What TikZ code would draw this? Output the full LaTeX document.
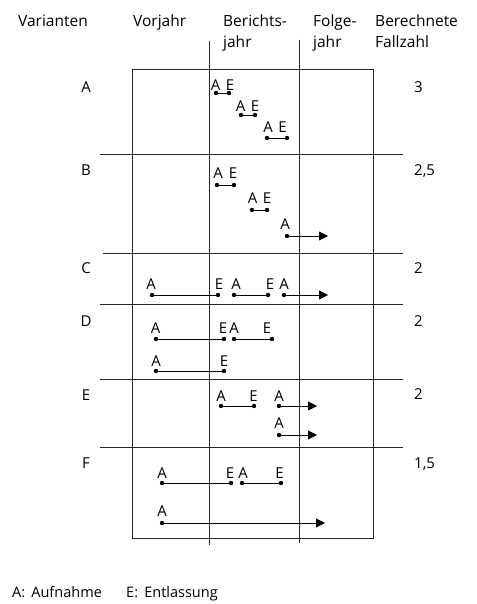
\documentclass[tikz,border=0pt]{standalone}
\usepackage{fontspec}
\setmainfont{Open Sans}
\usetikzlibrary{arrows.meta}
\tikzset{
  txt/.style={font=\fontsize{15}{18}\selectfont, inner sep=0pt, anchor=base},
  hdr/.style={font=\fontsize{15.5}{18}\selectfont, inner sep=0pt, anchor=base west},
  dot/.style={circle, fill=black, inner sep=0pt, minimum size=4.4pt},
  seg/.style={line width=0.9pt},
  arr/.style={seg, -{Triangle[length=9pt,width=9pt]}},
  gridline/.style={line width=1pt, black!85},
}
\begin{document}
\begin{tikzpicture}[x=1pt,y=-1pt]
\useasboundingbox (0,0) rectangle (476,604);
% header
\node[hdr] (hVar) at (18,27) {Varianten};
\node[hdr] (hVor) at (133,27) {Vorjahr};
\node[hdr] (hBer1) at (223,27) {Berichts-};
\node[hdr] (hBer2) at (223,48) {jahr};
\node[hdr] (hFol1) at (313,27) {Folge-};
\node[hdr] (hFol2) at (313,48) {jahr};
\node[hdr] (hFal1) at (375,27) {Berechnete};
\node[hdr] (hFal2) at (375,48) {Fallzahl};
% grid
\draw[gridline] (132,70) rectangle (373,538);
\draw[gridline] (209,41) -- (209,545);
\draw[gridline] (299,40) -- (299,543);
\draw[gridline] (100,155) -- (403,155);
\draw[gridline] (103,253) -- (403,253);
\draw[gridline] (100,304) -- (403,304);
\draw[gridline] (100,379) -- (403,379);
\draw[gridline] (100,447) -- (403,447);
% row labels
\node[txt] (vA) at (86,92.5) {A};
\node[txt] (vB) at (86,175.5) {B};
\node[txt] (vC) at (86,273.5) {C};
\node[txt] (vD) at (86,326.5) {D};
\node[txt] (vE) at (86,400.5) {E};
\node[txt] (vF) at (86,468.5) {F};
% numbers
\node[txt,anchor=base west] (nA) at (414,92.5) {3};
\node[txt,anchor=base west] (nB) at (414,175.5) {2,5};
\node[txt,anchor=base west] (nC) at (414,273.5) {2};
\node[txt,anchor=base west] (nD) at (414,326.5) {2};
\node[txt,anchor=base west] (nE) at (414,399.5) {2};
\node[txt,anchor=base west] (nF) at (414,468.5) {1,5};
% ---- Row A
\node[dot] (a1s) at (216,93) {}; \node[dot] (a1e) at (229,93) {};
\node[txt] (a1sl) at (215.5,91) {A}; \node[txt] (a1el) at (230,91) {E};
\draw[seg] (a1s) -- (a1e);
\node[dot] (a2s) at (241,115) {}; \node[dot] (a2e) at (255,115) {};
\node[txt] (a2sl) at (240.5,111.5) {A}; \node[txt] (a2el) at (255,111.5) {E};
\draw[seg] (a2s) -- (a2e);
\node[dot] (a3s) at (267,138) {}; \node[dot] (a3e) at (287,138) {};
\node[txt] (a3sl) at (268,133) {A}; \node[txt] (a3el) at (282.5,133) {E};
\draw[seg] (a3s) -- (a3e);
% ---- Row B
\node[dot] (b1s) at (217,185) {}; \node[dot] (b1e) at (234,185) {};
\node[txt] (b1sl) at (218,178) {A}; \node[txt] (b1el) at (233,178) {E};
\draw[seg] (b1s) -- (b1e);
\node[dot] (b2s) at (252,210) {}; \node[dot] (b2e) at (267,210) {};
\node[txt] (b2sl) at (252.5,203) {A}; \node[txt] (b2el) at (267,203) {E};
\draw[seg] (b2s) -- (b2e);
\node[dot] (b3s) at (287,236) {}; \coordinate (b3e) at (328,236);
\node[txt] (b3sl) at (285,229) {A};
\draw[arr] (b3s) -- (b3e);
% ---- Row C
\node[dot] (c1s) at (152,295) {}; \node[dot] (c1e) at (218,295) {};
\node[dot] (c2s) at (234,295) {}; \node[dot] (c2e) at (268,295) {};
\node[dot] (c3s) at (284,295) {}; \coordinate (c3e) at (328,295);
\node[txt] (c1sl) at (151,289) {A}; \node[txt] (c1el) at (219,289) {E};
\node[txt] (c2sl) at (236,289) {A}; \node[txt] (c2el) at (270,289) {E};
\node[txt] (c3sl) at (284,289) {A};
\draw[seg] (c1s) -- (c1e);
\draw[seg] (c2s) -- (c2e);
\draw[arr] (c3s) -- (c3e);
% ---- Row D
\node[dot] (d1s) at (156,339) {}; \node[dot] (d1e) at (224,339) {};
\node[dot] (d2s) at (234,339) {}; \node[dot] (d2e) at (272,339) {};
\node[txt] (d1sl) at (155.5,333) {A}; \node[txt] (d1el) at (223,333) {E};
\node[txt] (d2sl) at (234,333) {A}; \node[txt] (d2el) at (267,333) {E};
\draw[seg] (d1s) -- (d1e);
\draw[seg] (d2s) -- (d2e);
\node[dot] (d3s) at (156,371) {}; \node[dot] (d3e) at (224,371) {};
\node[txt] (d3sl) at (156,366.5) {A}; \node[txt] (d3el) at (224,366.5) {E};
\draw[seg] (d3s) -- (d3e);
% ---- Row E
\node[dot] (e1s) at (221,406) {}; \node[dot] (e1e) at (254,406) {};
\node[dot] (e2s) at (279,406) {}; \coordinate (e2e) at (317,406);
\node[txt] (e1sl) at (221,401) {A}; \node[txt] (e1el) at (253.5,401) {E};
\node[txt] (e2sl) at (279,401) {A};
\draw[seg] (e1s) -- (e1e);
\draw[arr] (e2s) -- (e2e);
\node[dot] (e3s) at (279,435) {}; \coordinate (e3e) at (317,435);
\node[txt] (e3sl) at (279,428) {A};
\draw[arr] (e3s) -- (e3e);
% ---- Row F
\node[dot] (f1s) at (162,483) {}; \node[dot] (f1e) at (231,483) {};
\node[dot] (f2s) at (242,483) {}; \node[dot] (f2e) at (281,483) {};
\node[txt] (f1sl) at (162,478) {A}; \node[txt] (f1el) at (230,478) {E};
\node[txt] (f2sl) at (243,478) {A}; \node[txt] (f2el) at (279.5,478) {E};
\draw[seg] (f1s) -- (f1e);
\draw[seg] (f2s) -- (f2e);
\node[dot] (f3s) at (162,523) {}; \coordinate (f3e) at (325,523);
\node[txt] (f3sl) at (162,516) {A};
\draw[arr] (f3s) -- (f3e);
% legend
\node[txt,anchor=base west,font=\fontsize{14.5}{17}\selectfont] (legA) at (12,597) {A:\ \,Aufnahme};
\node[txt,anchor=base west,font=\fontsize{14.5}{17}\selectfont] (legE) at (126,597) {E:\ \,Entlassung};
\end{tikzpicture}
\end{document}
